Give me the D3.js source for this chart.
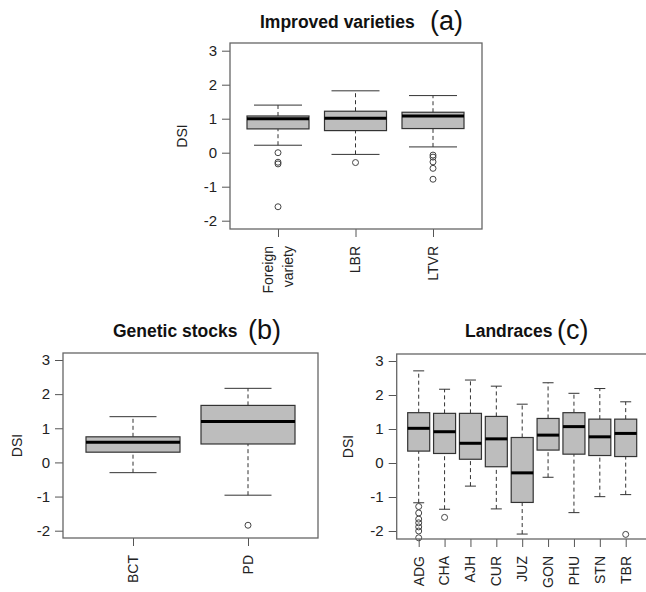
<!DOCTYPE html>
<html>
<head>
<meta charset="utf-8">
<script src="https://cdn.jsdelivr.net/npm/d3@7"></script>
<style>
  body { margin: 0; background: #fff; }
  svg { display: block; }
</style>
</head>
<body>
<div id="chart"></div>
<script>
// box stats: [lower whisker, Q1, median, Q3, upper whisker]
const improvedCats = ["Foreign\nvariety", "LBR", "LTVR"];
const improvedStats = [
  [0.22, 0.70, 1.00, 1.08, 1.40],
  [-0.05, 0.65, 1.01, 1.22, 1.82],
  [0.17, 0.71, 1.08, 1.19, 1.68]
];
const improvedOut = [
  [0.00, -0.28, -0.33, -1.59],
  [-0.29],
  [-0.07, -0.13, -0.27, -0.46, -0.78]
];

const stockCats = ["BCT", "PD"];
const stockStats = [
  [-0.30, 0.30, 0.59, 0.75, 1.34],
  [-0.96, 0.54, 1.20, 1.67, 2.17]
];
const stockOut = [[], [-1.84]];

const landCats = ["ADG", "CHA", "AJH", "CUR", "JUZ", "GON", "PHU", "STN", "TBR"];
const landStats = [
  [-1.17, 0.35, 1.02, 1.48, 2.71],
  [-1.36, 0.28, 0.92, 1.46, 2.17],
  [-0.68, 0.11, 0.58, 1.46, 2.44],
  [-1.35, -0.11, 0.71, 1.37, 2.26],
  [-2.09, -1.16, -0.29, 0.75, 1.73],
  [-0.42, 0.38, 0.82, 1.31, 2.36],
  [-1.46, 0.26, 1.07, 1.48, 2.05],
  [-0.99, 0.22, 0.77, 1.29, 2.19],
  [-0.93, 0.19, 0.87, 1.29, 1.80]
];
const landOut = [
  [-1.28, -1.47, -1.65, -1.76, -1.88, -2.00, -2.20],
  [-1.60], [], [], [], [], [], [], [-2.10]
];

const yTicks = [-2, -1, 0, 1, 2, 3];

const W = 646, H = 592;
const svg = d3.select("#chart").append("svg")
  .attr("width", W).attr("height", H)
  .style("font-family", "Liberation Sans, Arial, sans-serif");

const panels = [
  { cats: improvedCats, stats: improvedStats, out: improvedOut,
    title: "Improved varieties", tag: "(a)", titleX: 260, tagX: 430, titleY: 28,
    frame: [230, 482, 43, 229], yPx: [220.7, 50.7], xPx: [278, 433],
    boxW: 62, capW: 48, dsiX: 182 },
  { cats: stockCats, stats: stockStats, out: stockOut,
    title: "Genetic stocks", tag: "(b)", titleX: 113, tagX: 248, titleY: 337,
    frame: [63, 318, 353, 538], yPx: [530.7, 360], xPx: [133, 248],
    boxW: 94, capW: 47, dsiX: 17 },
  { cats: landCats, stats: landStats, out: landOut,
    title: "Landraces", tag: "(c)", titleX: 465, tagX: 557, titleY: 337,
    frame: [396.7, 650, 354, 539], yPx: [531, 361], xPx: [418.7, 625.7],
    boxW: 22, capW: 11, dsiX: 348 }
];

function drawPanel(p) {
  const g = svg.append("g");
  const [fx0, fx1, fy0, fy1] = p.frame;
  const y = d3.scaleLinear().domain([-2, 3]).range(p.yPx);
  const x = d3.scaleLinear().domain([0, p.cats.length - 1]).range(p.xPx);

  // title
  g.append("text").attr("x", p.titleX).attr("y", p.titleY)
    .attr("font-size", 17.5).attr("font-weight", "bold").attr("fill", "#111")
    .text(p.title);
  g.append("text").attr("x", p.tagX).attr("y", p.titleY + 2)
    .attr("font-size", 27).attr("fill", "#111")
    .text(p.tag);

  // y axis
  const ya = g.append("g")
    .attr("transform", `translate(${fx0},0)`)
    .call(d3.axisLeft(y).tickValues(yTicks).tickSize(8).tickPadding(5).tickFormat(d => String(d)));
  ya.select(".domain").remove();
  ya.selectAll("line").attr("stroke", "#555");
  ya.selectAll("text").attr("font-size", 15).attr("fill", "#222")
    .attr("font-family", "Liberation Sans, Arial, sans-serif");

  // x axis
  const xa = g.append("g")
    .attr("transform", `translate(0,${fy1})`)
    .call(d3.axisBottom(x).tickValues(d3.range(p.cats.length)).tickSize(8).tickFormat(""));
  xa.select(".domain").remove();
  xa.selectAll("line").attr("stroke", "#555");

  p.cats.forEach((c, i) => {
    const lines = c.split("\n");
    const lh = 20;
    lines.forEach((ln, j) => {
      const cx = x(i) + (j - (lines.length - 1) / 2) * lh;
      g.append("text")
        .attr("transform", `translate(${cx},${fy1 + 17}) rotate(-90)`)
        .attr("text-anchor", "end")
        .attr("dy", "0.35em")
        .attr("font-size", 14).attr("fill", "#222")
        .text(ln);
    });
  });

  // DSI label
  g.append("text")
    .attr("transform", `translate(${p.dsiX},${(fy0 + fy1) / 2}) rotate(-90)`)
    .attr("text-anchor", "middle").attr("dy", "0.35em")
    .attr("font-size", 14).attr("fill", "#222")
    .text("DSI");

  // boxes
  const bg = g.selectAll("g.box").data(p.stats).join("g").attr("class", "box");
  bg.append("line")
    .attr("x1", (d, i) => x(i)).attr("x2", (d, i) => x(i))
    .attr("y1", d => y(d[3])).attr("y2", d => y(d[4]))
    .attr("stroke", "#333").attr("stroke-dasharray", "4,3");
  bg.append("line")
    .attr("x1", (d, i) => x(i)).attr("x2", (d, i) => x(i))
    .attr("y1", d => y(d[0])).attr("y2", d => y(d[1]))
    .attr("stroke", "#333").attr("stroke-dasharray", "4,3");
  [0, 4].forEach(k => {
    bg.append("line")
      .attr("x1", (d, i) => x(i) - p.capW / 2).attr("x2", (d, i) => x(i) + p.capW / 2)
      .attr("y1", d => y(d[k])).attr("y2", d => y(d[k]))
      .attr("stroke", "#333");
  });
  bg.append("rect")
    .attr("x", (d, i) => x(i) - p.boxW / 2).attr("width", p.boxW)
    .attr("y", d => y(d[3])).attr("height", d => y(d[1]) - y(d[3]))
    .attr("fill", "#bdbdbd").attr("stroke", "#333").attr("stroke-width", 1.2);
  bg.append("line")
    .attr("x1", (d, i) => x(i) - p.boxW / 2).attr("x2", (d, i) => x(i) + p.boxW / 2)
    .attr("y1", d => y(d[2])).attr("y2", d => y(d[2]))
    .attr("stroke", "#000").attr("stroke-width", 3);

  // outliers
  p.out.forEach((vals, i) => {
    g.selectAll(null).data(vals).join("circle")
      .attr("cx", x(i)).attr("cy", d => y(d)).attr("r", 3)
      .attr("fill", "none").attr("stroke", "#444").attr("stroke-width", 1);
  });

  // frame
  g.append("rect")
    .attr("x", fx0).attr("y", fy0).attr("width", fx1 - fx0).attr("height", fy1 - fy0)
    .attr("fill", "none").attr("stroke", "#666").attr("stroke-width", 1.3);
}

panels.forEach(drawPanel);
</script>
</body>
</html>
